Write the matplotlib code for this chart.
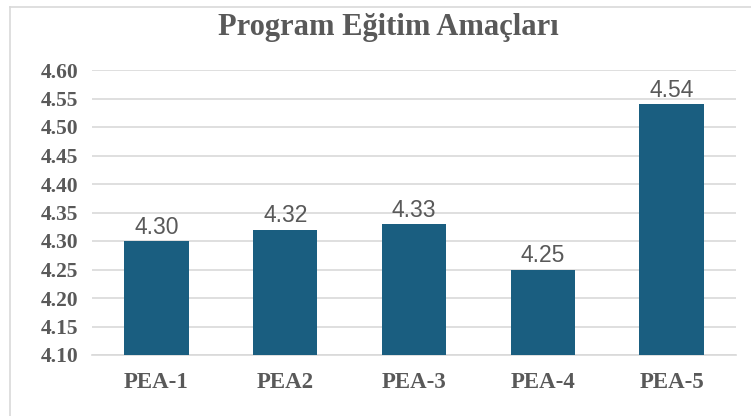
import matplotlib
matplotlib.use("Agg")
import matplotlib.pyplot as plt
from matplotlib.lines import Line2D

categories = ["PEA-1", "PEA2", "PEA-3", "PEA-4", "PEA-5"]
values = [4.30, 4.32, 4.33, 4.25, 4.54]
yticks = [4.10, 4.15, 4.20, 4.25, 4.30, 4.35, 4.40, 4.45, 4.50, 4.55, 4.60]
title = "Program Eğitim Amaçları"

W, H = 751, 416
fig = plt.figure(figsize=(W / 100, H / 100), dpi=100)
fig.patch.set_facecolor("white")

# outer frame (top and left edges visible)
fig.add_artist(Line2D([10 / W, 1], [1 - 7 / H, 1 - 7 / H], color="#d9d9d9", lw=1.2, transform=fig.transFigure))
fig.add_artist(Line2D([10 / W, 10 / W], [0, 1 - 7 / H], color="#d9d9d9", lw=1.2, transform=fig.transFigure))

left, right, top, bottom = 92, 736, 70, 355
ax = fig.add_axes([left / W, 1 - bottom / H, (right - left) / W, (bottom - top) / H])

x = list(range(len(categories)))
ax.bar(x, values, width=0.5, color="#1a5e80", zorder=3, bottom=0)
ax.set_ylim(4.10, 4.60)
ax.set_xlim(-0.5, len(categories) - 0.5)
ax.set_yticks(yticks)
ax.set_yticklabels([f"{v:.2f}" for v in yticks], family="Liberation Serif",
                   fontsize=15.5, color="#595959", fontweight="bold")
ax.set_xticks(x)
ax.set_xticklabels(categories, family="Liberation Serif", fontsize=16.5,
                   color="#595959", fontweight="bold")
ax.tick_params(axis="both", length=0)
ax.tick_params(axis="y", pad=10)
ax.tick_params(axis="x", pad=12)
ax.grid(axis="y", color="#d9d9d9", lw=1.2, zorder=0)
for s in ["top", "right", "left"]:
    ax.spines[s].set_visible(False)
ax.spines["bottom"].set_color("#d9d9d9")
ax.spines["bottom"].set_linewidth(1.2)

for xi, v in zip(x, values):
    ax.text(xi, v + 0.004, f"{v:.2f}", ha="center", va="bottom",
            family="Liberation Sans", fontsize=16.5, color="#595959", zorder=4)

fig.text(388 / W, 1 - 28 / H, title, ha="center", va="center",
         family="Liberation Serif", fontsize=22, fontweight="bold", color="#595959")

fig.savefig("out.png", dpi=100)
